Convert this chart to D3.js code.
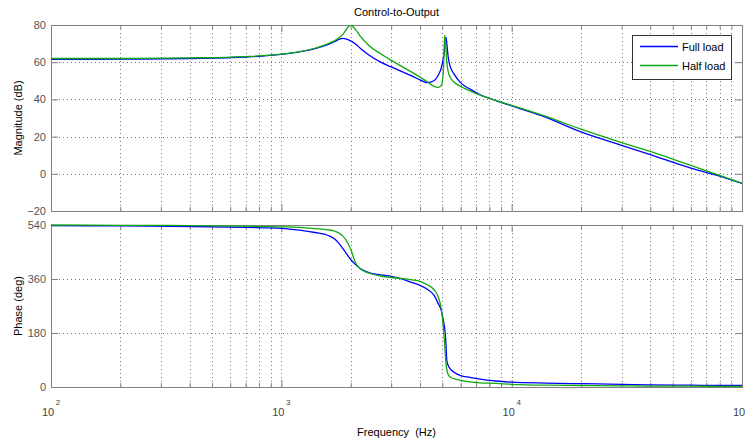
<!DOCTYPE html>
<html>
<head>
<meta charset="utf-8">
<script src="https://cdn.jsdelivr.net/npm/d3@7"></script>
<style>
  body { margin: 0; background: #fff; }
  text { font-family: "Liberation Sans", Arial, sans-serif; }
</style>
</head>
<body>
<svg id="chart" width="745" height="442"></svg>
<script>
const width = 745;
const height = 442;

// frequency grid (Hz)
const freq = [100, 200, 400, 700, 1000, 1200, 1400, 1600, 1700, 1800, 1850, 1900, 2000, 2100, 2200, 2400,
  2700, 3000, 3300, 3700, 4000, 4300, 4600, 4800, 4950, 5050, 5120, 5180, 5230, 5300, 5400, 5600,
  6000, 6600, 7300, 8500, 10000, 14000, 20000, 30000, 40000, 60000, 80000, 100000];

// magnitude (dB)
const magFull = [61.5, 61.6, 62.0, 62.8, 64.2, 65.6, 67.3, 69.6, 71.0, 72.5, 72.8, 72.6, 71.5, 69.8, 67.5, 63.9,
  60.0, 57.5, 55.2, 52.5, 50.5, 49.0, 50.0, 53.0, 57.0, 62.0, 67.0, 73.5, 70.0, 63.0, 58.0, 54.0,
  49.0, 45.5, 42.5, 39.5, 36.5, 30.5, 22.5, 15.3, 10.3, 3.0, -1.2, -5.1];
const magHalf = [62.0, 62.0, 62.3, 63.0, 64.3, 65.7, 67.5, 70.0, 71.5, 73.5, 75.0, 77.0, 80.0, 77.5, 74.0, 69.0,
  64.5, 61.0, 58.0, 54.5, 52.0, 49.5, 47.0, 46.5, 47.5, 55.0, 74.5, 68.0, 60.0, 55.0, 52.0, 49.5,
  47.0, 44.5, 42.3, 39.5, 36.8, 31.0, 24.0, 16.8, 12.0, 4.5, -0.8, -5.0];

// phase (deg)
const phaseFull = [538, 537, 535, 532, 529, 523, 515, 505, 494, 474, 461, 449, 425, 408, 395, 381,
  374, 369, 361, 348, 339, 326, 306, 278, 255, 222, 195, 150, 88, 72, 61, 50,
  38, 32, 26, 20, 16, 13, 11, 9, 7, 6, 5, 5];
const phaseHalf = [540, 539, 538, 536, 534, 532, 528, 524, 520, 511, 503, 492, 460, 414, 394, 380,
  370, 365, 362, 357, 352, 341, 325, 300, 260, 200, 140, 85, 58, 42, 34, 28,
  22, 17, 14, 12, 9, 6, 5, 4, 3, 3, 2, 2];

const magTicks = [-20, 0, 20, 40, 60, 80];
const phaseTicks = [0, 180, 360, 540];
const decades = [100, 1000, 10000, 100000];
const seriesNames = ["Full load", "Half load"];
const colors = ["#0000ff", "#10a810"];

const left = 51, right = 742;
const magTop = 25, magBottom = 211;
const phTop = 225, phBottom = 387;

const svg = d3.select("#chart");

const x = d3.scaleLog().domain([100, 100000]).range([left, right]);
const yMag = d3.scaleLinear().domain([-20, 80]).range([magBottom, magTop]);
const yPh = d3.scaleLinear().domain([0, 540]).range([phBottom, phTop]);

const minorTicks = x.ticks().filter(d => !decades.includes(d));

function drawPanel(y, yTicks, top, bottom, showXLabels) {
  const g = svg.append("g");

  // dotted grid
  g.append("g")
    .selectAll("line")
    .data(x.ticks())
    .join("line")
      .attr("x1", d => Math.round(x(d)) + 0.5)
      .attr("x2", d => Math.round(x(d)) + 0.5)
      .attr("y1", top)
      .attr("y2", bottom)
      .attr("stroke", "#777")
      .attr("stroke-dasharray", "1,3");

  g.append("g")
    .selectAll("line")
    .data(yTicks)
    .join("line")
      .attr("x1", left)
      .attr("x2", right)
      .attr("y1", d => Math.round(y(d)) + 0.5)
      .attr("y2", d => Math.round(y(d)) + 0.5)
      .attr("stroke", "#777")
      .attr("stroke-dasharray", "1,3");

  // y axes (ticks inside)
  const yl = g.append("g")
    .attr("transform", `translate(${left},0)`)
    .call(d3.axisLeft(y).tickValues(yTicks).tickSize(-7).tickSizeOuter(0).tickPadding(12));
  const yr = g.append("g")
    .attr("transform", `translate(${right},0)`)
    .call(d3.axisRight(y).tickValues(yTicks).tickSize(-7).tickSizeOuter(0).tickFormat(""));

  // x ticks top and bottom
  const xb = g.append("g")
    .attr("transform", `translate(0,${bottom})`)
    .call(d3.axisBottom(x).tickValues(decades).tickSize(-7).tickSizeOuter(0).tickFormat(""));
  const xbm = g.append("g")
    .attr("transform", `translate(0,${bottom})`)
    .call(d3.axisBottom(x).tickValues(minorTicks).tickSize(-4).tickSizeOuter(0).tickFormat(""));
  const xt = g.append("g")
    .attr("transform", `translate(0,${top})`)
    .call(d3.axisTop(x).tickValues(decades).tickSize(-7).tickSizeOuter(0).tickFormat(""));
  const xtm = g.append("g")
    .attr("transform", `translate(0,${top})`)
    .call(d3.axisTop(x).tickValues(minorTicks).tickSize(-4).tickSizeOuter(0).tickFormat(""));

  [yl, yr, xb, xbm, xt, xtm].forEach(a => {
    a.selectAll("path, line").attr("stroke", "#808080");
    a.selectAll("text").attr("fill", "#555").style("font-size", "11px")
      .style("font-family", "'Liberation Sans', Arial, sans-serif");
  });
  yl.selectAll("text").attr("x", -5);

  g.append("rect")
    .attr("x", left + 0.5)
    .attr("y", top + 0.5)
    .attr("width", right - left)
    .attr("height", bottom - top)
    .attr("fill", "none")
    .attr("stroke", "#808080");

  if (showXLabels) {
    const lab = g.append("g").selectAll("g").data(decades).join("g");
    lab.append("text")
      .attr("x", d => x(d) - 3)
      .attr("y", 416)
      .attr("text-anchor", "middle")
      .attr("fill", "#444")
      .style("font-size", "11px")
      .text("10");
    // exponent; the last one falls past the window edge, as in the original
    lab.filter(d => x(d) + 10 < width)
      .append("text")
      .attr("x", d => x(d) + 7)
      .attr("y", 405)
      .attr("text-anchor", "middle")
      .attr("fill", "#444")
      .style("font-size", "8px")
      .text(d => Math.round(Math.log10(d)));
  }
  return g;
}

drawPanel(yMag, magTicks, magTop, magBottom, false);
drawPanel(yPh, phaseTicks, phTop, phBottom, true);

svg.append("clipPath").attr("id", "clipMag")
  .append("rect").attr("x", left).attr("y", magTop).attr("width", right - left).attr("height", magBottom - magTop);
svg.append("clipPath").attr("id", "clipPh")
  .append("rect").attr("x", left).attr("y", phTop - 1).attr("width", right - left).attr("height", phBottom - phTop + 1);

function drawLines(y, series, clip) {
  const line = d3.line()
    .x((d, i) => x(freq[i]))
    .y(d => y(d))
    .curve(d3.curveMonotoneX);
  svg.append("g")
    .attr("clip-path", `url(#${clip})`)
    .selectAll("path")
    .data(series)
    .join("path")
      .attr("d", d => line(d))
      .attr("fill", "none")
      .attr("stroke", (d, i) => colors[i])
      .attr("stroke-width", 1.3);
}

drawLines(yMag, [magFull, magHalf], "clipMag");
drawLines(yPh, [phaseFull, phaseHalf], "clipPh");

// legend
const legend = svg.append("g");
legend.append("rect")
  .attr("x", 632.5)
  .attr("y", 35.5)
  .attr("width", 99)
  .attr("height", 44)
  .attr("fill", "#fff")
  .attr("stroke", "#333");
const items = legend.selectAll("g.item")
  .data(seriesNames)
  .join("g")
    .attr("class", "item")
    .attr("transform", (d, i) => `translate(0,${46.5 + i * 19})`);
items.append("line")
  .attr("x1", 640)
  .attr("x2", 678)
  .attr("stroke", (d, i) => colors[i])
  .attr("stroke-width", 1.3);
items.append("text")
  .attr("x", 682)
  .attr("y", 4)
  .style("font-size", "11px")
  .text(d => d);

// titles
svg.append("text")
  .attr("x", (left + right) / 2)
  .attr("y", 16)
  .attr("text-anchor", "middle")
  .style("font-size", "11px")
  .text("Control-to-Output");

svg.append("text")
  .attr("x", (left + right) / 2)
  .attr("y", 436)
  .attr("text-anchor", "middle")
  .style("font-size", "11px")
  .style("white-space", "pre")
  .text("Frequency  (Hz)");

svg.append("text")
  .attr("transform", `translate(22,${(magTop + magBottom) / 2}) rotate(-90)`)
  .attr("text-anchor", "middle")
  .style("font-size", "11px")
  .text("Magnitude (dB)");

svg.append("text")
  .attr("transform", `translate(22,${(phTop + phBottom) / 2}) rotate(-90)`)
  .attr("text-anchor", "middle")
  .style("font-size", "11px")
  .text("Phase (deg)");
</script>
</body>
</html>
